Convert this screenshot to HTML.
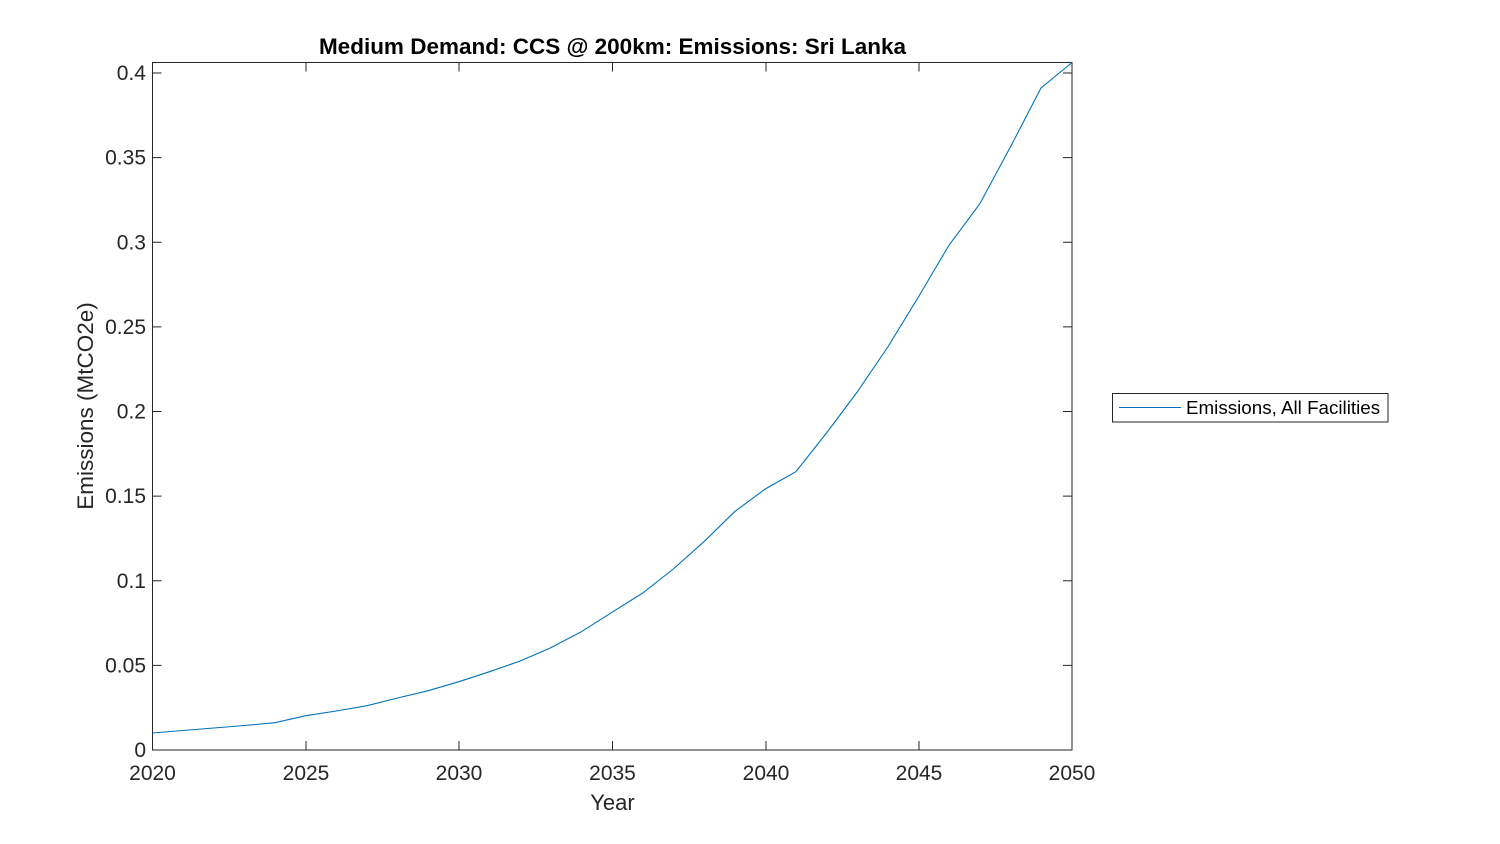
<!DOCTYPE html>
<html><head><meta charset="utf-8"><style>html,body{margin:0;padding:0;background:#fff;}svg{display:block;}</style></head>
<body>
<svg width="1500" height="844" xmlns="http://www.w3.org/2000/svg" font-family="'Liberation Sans', Arial, sans-serif">
<rect width="1500" height="844" fill="#fff"/>
<g stroke="#262626" stroke-width="1" fill="none">
<rect x="152.5" y="62.5" width="919.5" height="687.5"/>
<path d="M152.5 750v-9M306 750v-9M459 750v-9M612.5 750v-9M766 750v-9M919 750v-9M1072 750v-9
M152.5 62.5v9M306 62.5v9M459 62.5v9M612.5 62.5v9M766 62.5v9M919 62.5v9M1072 62.5v9"/>
<path d="M152.5 750h9M152.5 665.4h9M152.5 580.8h9M152.5 496.1h9M152.5 411.5h9M152.5 326.9h9M152.5 242.3h9M152.5 157.6h9M152.5 73h9
M1072 750h-9M1072 665.4h-9M1072 580.8h-9M1072 496.1h-9M1072 411.5h-9M1072 326.9h-9M1072 242.3h-9M1072 157.6h-9M1072 73h-9"/>
</g>
<polyline fill="none" stroke="#0072bd" stroke-width="1.1" points="152.5,733 183.1,730.5 213.8,728 244.4,725.5 275,722.7 305.7,715.7 336.3,711 367,705.7 397.6,698 428.2,690.7 458.9,681.7 489.5,671.7 520.2,661 550.8,647.7 581.4,631.7 612,612.3 642.7,593 673.3,569 704,541.7 734.6,511.7 765.2,489 795.9,471.7 826.5,433 857.2,392 887.8,347 918.4,297 949.1,245 979.7,204 1010.4,147 1041,88 1072,62.5"/>
<g font-size="21" fill="#262626" text-anchor="middle">
<text x="152.5" y="780">2020</text><text x="306" y="780">2025</text><text x="459" y="780">2030</text><text x="612.5" y="780">2035</text><text x="766" y="780">2040</text><text x="919" y="780">2045</text><text x="1072" y="780">2050</text>
</g>
<g font-size="21" fill="#262626" text-anchor="end">
<text x="146" y="757">0</text><text x="146" y="672.4">0.05</text><text x="146" y="587.8">0.1</text><text x="146" y="503.1">0.15</text><text x="146" y="418.5">0.2</text><text x="146" y="333.9">0.25</text><text x="146" y="249.3">0.3</text><text x="146" y="164.6">0.35</text><text x="146" y="80">0.4</text>
</g>
<text x="612.5" y="810" font-size="22" fill="#262626" text-anchor="middle">Year</text>
<text transform="translate(93,406) rotate(-90)" font-size="22.5" fill="#262626" text-anchor="middle">Emissions (MtCO2e)</text>
<text x="612.5" y="54" font-size="22.5" font-weight="bold" fill="#000" text-anchor="middle">Medium Demand: CCS @ 200km: Emissions: Sri Lanka</text>
<rect x="1112.5" y="393.5" width="275.5" height="28.5" fill="#fff" stroke="#262626" stroke-width="1"/>
<line x1="1119" y1="407.5" x2="1181" y2="407.5" stroke="#0072bd" stroke-width="1"/>
<text x="1186" y="414" font-size="18.8" fill="#000">Emissions, All Facilities</text>
</svg>
</body></html>
